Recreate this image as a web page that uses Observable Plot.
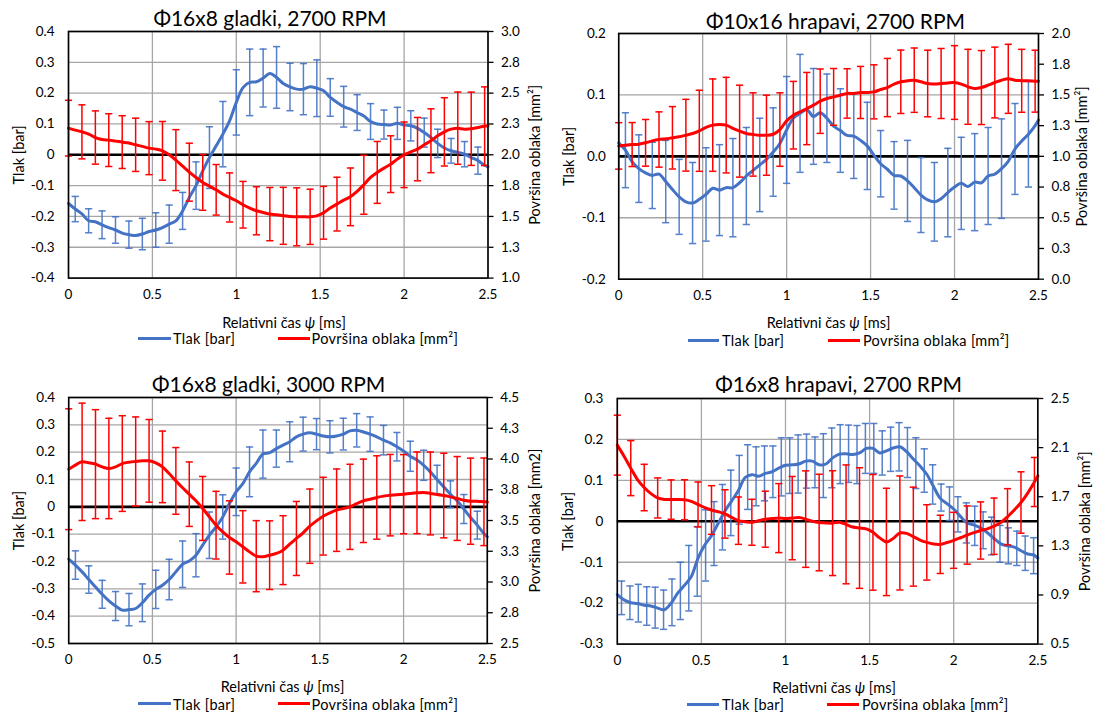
<!DOCTYPE html>
<html><head><meta charset="utf-8">
<script src="https://cdn.jsdelivr.net/npm/d3@7"></script>
<script src="https://cdn.jsdelivr.net/npm/@observablehq/plot@0.6"></script>
<style>
body{margin:0;background:#fff;font-family:Lato,"Open Sans",sans-serif;color:#000;}
#root{position:relative;width:1093px;height:713px;overflow:hidden;background:#fff;}
.panel{position:absolute;width:546px;height:356px;}
.panel svg{position:absolute;left:0;}
.title{position:absolute;white-space:nowrap;font-size:21px;font-weight:400;transform:translate(-50%,-50%);}
.xlab{position:absolute;white-space:nowrap;font-size:14.5px;transform:translate(-50%,-50%);}
.legline{position:absolute;height:3px;}
.legtext{position:absolute;white-space:nowrap;font-size:14.5px;letter-spacing:0.3px;transform:translateY(-50%);}
</style>
</head><body><div id="root"></div>
<script>
// ---------- shared sampling grid (ms) ----------
const time = [0,0.04,0.08,0.12,0.16,0.2,0.24,0.28,0.32,0.36,0.4,0.44,0.48,0.52,0.56,0.6,0.64,0.68,0.72,0.76,0.8,0.84,0.88,0.92,0.96,1,1.04,1.08,1.12,1.16,1.2,1.24,1.28,1.32,1.36,1.4,1.44,1.48,1.52,1.56,1.6,1.64,1.68,1.72,1.76,1.8,1.84,1.88,1.92,1.96,2,2.04,2.08,2.12,2.16,2.2,2.24,2.28,2.32,2.36,2.4,2.44,2.48,2.5];
const blueBarT = [0.04,0.12,0.2,0.28,0.36,0.44,0.52,0.6,0.68,0.76,0.84,0.92,1,1.08,1.16,1.24,1.32,1.4,1.48,1.56,1.64,1.72,1.8,1.88,1.96,2.04,2.12,2.2,2.28,2.36,2.44];
const redBarT = [0,0.08,0.16,0.24,0.32,0.4,0.48,0.56,0.64,0.72,0.8,0.88,0.96,1.04,1.12,1.2,1.28,1.36,1.44,1.52,1.6,1.68,1.76,1.84,1.92,2,2.08,2.16,2.24,2.32,2.4,2.48];
const xTicks = [0,0.5,1,1.5,2,2.5];

// ---------- Panel 1: Φ16x8 gladki, 2700 RPM ----------
const tlak1 = [-0.158,-0.176,-0.192,-0.214,-0.217,-0.227,-0.236,-0.244,-0.254,-0.259,-0.262,-0.257,-0.249,-0.244,-0.236,-0.225,-0.214,-0.182,-0.138,-0.100,-0.052,-0.009,0.029,0.067,0.110,0.170,0.218,0.235,0.237,0.249,0.264,0.251,0.231,0.220,0.213,0.213,0.221,0.216,0.208,0.186,0.170,0.156,0.148,0.137,0.126,0.108,0.100,0.098,0.097,0.102,0.097,0.094,0.086,0.072,0.056,0.037,0.022,0.013,0.008,0.002,-0.009,-0.019,-0.034,-0.039];
const tlakErr1 = [0.041,0.039,0.045,0.043,0.044,0.051,0.056,0.062,0.060,0.077,0.100,0.106,0.106,0.108,0.094,0.100,0.077,0.083,0.092,0.061,0.066,0.058,0.058,0.047,0.052,0.049,0.047,0.046,0.040,0.041,0.044];
const area1 = [2.216,2.200,2.186,2.168,2.140,2.124,2.119,2.111,2.103,2.095,2.081,2.068,2.054,2.046,2.032,2.000,1.957,1.908,1.859,1.816,1.776,1.746,1.716,1.681,1.654,1.627,1.595,1.568,1.546,1.532,1.519,1.514,1.505,1.500,1.497,1.497,1.497,1.505,1.530,1.568,1.600,1.632,1.659,1.703,1.757,1.816,1.857,1.892,1.924,1.965,2.000,2.024,2.046,2.081,2.114,2.154,2.186,2.208,2.216,2.208,2.211,2.222,2.232,2.235];
const areaErr1 = [0.226,0.219,0.216,0.214,0.214,0.216,0.215,0.238,0.247,0.235,0.226,0.205,0.199,0.189,0.195,0.216,0.231,0.235,0.224,0.214,0.218,0.234,0.239,0.251,0.230,0.266,0.257,0.259,0.277,0.293,0.297,0.319];
const yTicks1 = [-0.4,-0.3,-0.2,-0.1,0,0.1,0.2,0.3,0.4];
const rTicks1 = [1,1.25,1.5,1.75,2,2.25,2.5,2.75,3];

// ---------- Panel 2: Φ10x16 hrapavi, 2700 RPM ----------
const tlak2 = [0.022,0.010,-0.009,-0.020,-0.027,-0.031,-0.029,-0.041,-0.054,-0.066,-0.074,-0.076,-0.070,-0.062,-0.052,-0.055,-0.051,-0.051,-0.043,-0.032,-0.023,-0.014,-0.005,0.007,0.021,0.043,0.062,0.070,0.076,0.065,0.071,0.062,0.049,0.042,0.034,0.033,0.026,0.017,0.002,-0.012,-0.021,-0.031,-0.032,-0.040,-0.051,-0.063,-0.071,-0.074,-0.069,-0.059,-0.050,-0.044,-0.049,-0.042,-0.043,-0.032,-0.029,-0.020,-0.008,0.012,0.025,0.036,0.050,0.059];
const tlakErr2 = [0.061,0.055,0.054,0.067,0.061,0.066,0.076,0.074,0.080,0.079,0.076,0.072,0.087,0.096,0.078,0.072,0.068,0.069,0.071,0.054,0.055,0.066,0.061,0.064,0.072,0.075,0.079,0.079,0.081,0.074,0.086];
const area2 = [1.085,1.091,1.096,1.099,1.110,1.126,1.137,1.143,1.151,1.159,1.172,1.186,1.208,1.235,1.254,1.259,1.254,1.227,1.205,1.186,1.178,1.172,1.172,1.180,1.218,1.289,1.335,1.362,1.389,1.417,1.449,1.471,1.484,1.498,1.512,1.512,1.520,1.520,1.525,1.544,1.560,1.588,1.607,1.615,1.620,1.607,1.593,1.588,1.593,1.598,1.601,1.588,1.566,1.552,1.560,1.579,1.601,1.620,1.631,1.620,1.615,1.615,1.612,1.612];
const areaErr2 = [0.189,0.179,0.190,0.225,0.254,0.292,0.330,0.376,0.389,0.374,0.339,0.326,0.299,0.275,0.294,0.262,0.231,0.201,0.212,0.220,0.237,0.258,0.262,0.271,0.285,0.300,0.305,0.301,0.288,0.281,0.256,0.252];
const yTicks2 = [-0.2,-0.1,0,0.1,0.2];
const rTicks2 = [0,0.25,0.5,0.75,1,1.25,1.5,1.75,2];

// ---------- Panel 3: Φ16x8 gladki, 3000 RPM ----------
const tlak3 = [-0.191,-0.213,-0.238,-0.266,-0.293,-0.320,-0.344,-0.363,-0.378,-0.376,-0.372,-0.351,-0.323,-0.302,-0.287,-0.266,-0.238,-0.210,-0.198,-0.177,-0.140,-0.104,-0.073,-0.037,0.012,0.055,0.085,0.128,0.159,0.193,0.198,0.213,0.226,0.238,0.256,0.266,0.271,0.266,0.259,0.256,0.259,0.266,0.278,0.280,0.274,0.266,0.256,0.244,0.234,0.220,0.204,0.185,0.171,0.152,0.128,0.100,0.073,0.046,0.022,-0.008,-0.039,-0.067,-0.098,-0.110];
const tlakErr3 = [0.052,0.050,0.051,0.053,0.059,0.069,0.070,0.074,0.085,0.079,0.085,0.081,0.087,0.091,0.088,0.068,0.073,0.062,0.057,0.059,0.058,0.061,0.063,0.054,0.052,0.055,0.055,0.052,0.049,0.053,0.051];
const area3 = [3.917,3.950,3.977,3.969,3.958,3.936,3.923,3.936,3.963,3.974,3.980,3.985,3.985,3.969,3.936,3.882,3.822,3.766,3.714,3.660,3.598,3.530,3.462,3.408,3.362,3.327,3.286,3.245,3.210,3.205,3.218,3.232,3.259,3.308,3.354,3.400,3.454,3.497,3.535,3.562,3.584,3.598,3.611,3.638,3.660,3.673,3.687,3.698,3.706,3.709,3.714,3.720,3.725,3.728,3.720,3.711,3.703,3.692,3.679,3.665,3.657,3.657,3.652,3.650];
const areaErr3 = [0.491,0.477,0.443,0.408,0.389,0.362,0.336,0.291,0.271,0.262,0.260,0.275,0.298,0.294,0.289,0.279,0.280,0.301,0.302,0.316,0.335,0.346,0.339,0.339,0.331,0.322,0.332,0.337,0.344,0.341,0.350,0.356];
const yTicks3 = [-0.5,-0.4,-0.3,-0.2,-0.1,0,0.1,0.2,0.3,0.4];
const rTicks3 = [2.5,2.75,3,3.25,3.5,3.75,4,4.25,4.5];

// ---------- Panel 4: Φ16x8 hrapavi, 2700 RPM ----------
const tlak4 = [-0.179,-0.192,-0.199,-0.201,-0.205,-0.207,-0.212,-0.216,-0.200,-0.175,-0.156,-0.135,-0.090,-0.058,-0.035,-0.005,0.025,0.050,0.075,0.107,0.114,0.110,0.117,0.121,0.130,0.137,0.138,0.140,0.147,0.147,0.138,0.140,0.155,0.164,0.165,0.163,0.167,0.178,0.178,0.167,0.172,0.179,0.182,0.170,0.152,0.135,0.115,0.085,0.056,0.043,0.030,0.012,-0.004,-0.009,-0.016,-0.028,-0.042,-0.055,-0.060,-0.063,-0.072,-0.080,-0.083,-0.090];
const tlakBarT4 = [0.025,0.075,0.125,0.175,0.225,0.275,0.325,0.375,0.425,0.475,0.525,0.575,0.625,0.675,0.725,0.775,0.825,0.875,0.925,0.975,1.025,1.075,1.125,1.175,1.225,1.275,1.325,1.375,1.425,1.475,1.525,1.575,1.625,1.675,1.725,1.775,1.825,1.875,1.925,1.975,2.025,2.075,2.125,2.175,2.225,2.275,2.325,2.375,2.425,2.475];
const tlakBarMid4 = [-0.187,-0.199,-0.200,-0.207,-0.211,-0.216,-0.198,-0.170,-0.139,-0.098,-0.059,-0.030,0.010,0.045,0.077,0.108,0.110,0.117,0.121,0.133,0.136,0.140,0.147,0.144,0.136,0.155,0.164,0.165,0.163,0.178,0.178,0.167,0.176,0.182,0.168,0.142,0.124,0.090,0.058,0.043,0.017,-0.004,-0.011,-0.022,-0.036,-0.055,-0.060,-0.066,-0.078,-0.084];
const tlakErr4 = [0.041,0.041,0.046,0.047,0.050,0.048,0.057,0.070,0.080,0.085,0.087,0.078,0.080,0.080,0.084,0.079,0.072,0.067,0.063,0.071,0.068,0.071,0.066,0.062,0.078,0.073,0.072,0.070,0.071,0.061,0.061,0.054,0.054,0.059,0.061,0.062,0.053,0.048,0.033,0.041,0.043,0.049,0.048,0.045,0.046,0.045,0.044,0.042,0.042,0.044];
const area4 = [2.120,2.030,1.933,1.840,1.775,1.725,1.690,1.678,1.677,1.677,1.675,1.662,1.637,1.612,1.592,1.578,1.560,1.532,1.505,1.497,1.492,1.505,1.517,1.522,1.526,1.522,1.526,1.530,1.518,1.500,1.490,1.487,1.485,1.493,1.475,1.453,1.445,1.438,1.410,1.365,1.332,1.360,1.405,1.402,1.375,1.347,1.328,1.315,1.312,1.327,1.345,1.366,1.388,1.408,1.425,1.438,1.460,1.490,1.537,1.592,1.653,1.730,1.820,1.870];
const areaErr4 = [0.244,0.224,0.189,0.163,0.160,0.163,0.183,0.198,0.197,0.193,0.187,0.228,0.281,0.339,0.393,0.393,0.427,0.484,0.491,0.471,0.437,0.464,0.403,0.307,0.237,0.228,0.237,0.233,0.229,0.229,0.250,0.200];
const yTicks4 = [-0.3,-0.2,-0.1,0,0.1,0.2,0.3];
const rTicks4 = [0.5,0.9,1.3,1.7,2.1,2.5];

const titles = ["Φ16x8 gladki, 2700 RPM","Φ10x16 hrapavi, 2700 RPM","Φ16x8 gladki, 3000 RPM","Φ16x8 hrapavi, 2700 RPM"];
const leftLabel = "Tlak [bar]";
const rightLabels = ["Površina oblaka [mm²]","Površina oblaka [mm²]","Površina oblaka [mm2]","Površina oblaka [mm²]"];
const legendLabels = ["Tlak [bar]","Površina oblaka [mm²]"];

// ---------- drawing ----------
const COL_B = "#4472C4", COL_R = "#FF0000", GRID = "#A6A6A6";
const idx = new Map(time.map((t,i)=>[t.toFixed(3), i]));
const cap = {draw(ctx, size){ const r = Math.sqrt(size/Math.PI); ctx.moveTo(-r,0); ctx.lineTo(r,0); }};
const fmtInt0 = d => d === 0 ? "0" : d.toFixed(1);
const fmt1 = d => d.toFixed(1);
const root = document.getElementById("root");

function drawPanel(c){
  const div = document.createElement("div");
  div.className = "panel"; div.style.left = c.ox+"px"; div.style.top = c.oy+"px";
  root.appendChild(div);
  const W = 546, padT = 10, padB = 34;
  const [y0,y1] = c.yDom, [r0,r1] = c.rDom;
  const toL = r => y0 + (r - r0)*(y1 - y0)/(r1 - r0);
  const blue = time.map((t,i)=>({t, v:c.tlak[i]}));
  const red = time.map((t,i)=>({t, v:toL(c.area[i])}));
  const bb = c.bT.map((t,i)=>{ const m = c.bMid ? c.bMid[i] : c.tlak[idx.get(t.toFixed(3))]; return {t, lo:m - c.bErr[i], hi:m + c.bErr[i]}; });
  const rb = c.rT.map((t,i)=>{ const m = c.area[idx.get(t.toFixed(3))]; return {t, lo:toL(m - c.rErr[i]), hi:toL(m + c.rErr[i])}; });
  const rMapped = c.rTicks.map(toL);
  const rLabel = new Map(rMapped.map((v,i)=>[v.toFixed(6), c.rTicks[i].toFixed(1)]));
  const plot = Plot.plot({
    width: W, height: padT + (c.bottom - c.top) + padB,
    marginTop: padT, marginBottom: padB, marginLeft: c.left, marginRight: W - c.right,
    x: {domain:[0,2.5]}, y: {domain:c.yDom},
    style: {fontFamily:"Lato, 'Open Sans', sans-serif", fontSize:"13.5px", background:"transparent", color:"#000", overflow:"visible"},
    marks: [
      Plot.gridX(xTicks, {stroke:GRID, strokeOpacity:1, strokeWidth:1.3}),
      Plot.gridY(c.yTicks, {stroke:GRID, strokeOpacity:1, strokeWidth:1.3}),
      Plot.ruleY([0], {stroke:"#000", strokeWidth:2.6}),
      Plot.axisX(xTicks, {tickSize:0, tickPadding:11, tickFormat:d=>String(d), label:null}),
      Plot.axisY(c.yTicks, {anchor:"left", tickSize:0, tickPadding:c.tickPad, tickFormat:c.yFmt, label:null}),
      Plot.axisY(rMapped, {anchor:"right", tickSize:5, tickPadding:8, tickFormat:d=>rLabel.get(d.toFixed(6)), label:null, strokeWidth:1.3}),
      // Tlak (blue) error bars + line
      Plot.ruleX(bb, {x:"t", y1:"lo", y2:"hi", stroke:COL_B, strokeWidth:1.5, strokeOpacity:0.9}),
      Plot.dot(bb, {x:"t", y:"lo", r:3.6, symbol:cap, stroke:COL_B, strokeWidth:1.5, strokeOpacity:0.9, fill:"none"}),
      Plot.dot(bb, {x:"t", y:"hi", r:3.6, symbol:cap, stroke:COL_B, strokeWidth:1.5, strokeOpacity:0.9, fill:"none"}),
      Plot.line(blue, {x:"t", y:"v", stroke:COL_B, strokeWidth:3, curve:"catmull-rom"}),
      // Površina (red) error bars + line
      Plot.ruleX(rb, {x:"t", y1:"lo", y2:"hi", stroke:COL_R, strokeWidth:1.5}),
      Plot.dot(rb, {x:"t", y:"lo", r:3.6, symbol:cap, stroke:COL_R, strokeWidth:1.5, fill:"none"}),
      Plot.dot(rb, {x:"t", y:"hi", r:3.6, symbol:cap, stroke:COL_R, strokeWidth:1.5, fill:"none"}),
      Plot.line(red, {x:"t", y:"v", stroke:COL_R, strokeWidth:3, curve:"catmull-rom"}),
      Plot.frame({stroke:"#000", strokeWidth:1.6}),
      Plot.text([leftLabel], {text:d=>d, frameAnchor:"left", textAnchor:"middle", dx:-(c.left - c.yLabX), rotate:-90, fontSize:14.5, fill:"#000"}),
      Plot.text([c.rLabel], {text:d=>d, frameAnchor:"right", textAnchor:"middle", dx:(c.rLabX - c.right), rotate:-90, fontSize:14.5, fill:"#000"})
    ]
  });
  plot.style.top = (c.top - padT) + "px";
  div.appendChild(plot);

  const t = document.createElement("div");
  t.className = "title"; t.textContent = c.title;
  t.style.left = c.titleX+"px"; t.style.top = c.titleY+"px";
  div.appendChild(t);

  const xl = document.createElement("div");
  xl.className = "xlab"; xl.innerHTML = "Relativni čas <i>ψ</i> [ms]";
  xl.style.left = c.xLabX+"px"; xl.style.top = c.xLabY+"px";
  div.appendChild(xl);

  [[c.legB, COL_B, legendLabels[0]], [c.legR, COL_R, legendLabels[1]]].forEach(([p, col, txt])=>{
    const ln = document.createElement("div");
    ln.className = "legline"; ln.style.background = col;
    ln.style.left = p[0]+"px"; ln.style.width = (p[1]-p[0])+"px"; ln.style.top = (c.legY - 1.5)+"px";
    div.appendChild(ln);
    const tx = document.createElement("div");
    tx.className = "legtext"; tx.textContent = txt;
    tx.style.left = p[2]+"px"; tx.style.top = c.legY+"px";
    div.appendChild(tx);
  });
}

const panels = [
  {ox:0, oy:0, left:68, right:487.5, top:30.7, bottom:277.3, yDom:[-0.4,0.4], rDom:[1,3], yTicks:yTicks1, yFmt:fmtInt0, rTicks:rTicks1,
   tlak:tlak1, area:area1, bT:blueBarT, bErr:tlakErr1, rT:redBarT, rErr:areaErr1, title:titles[0], rLabel:rightLabels[0],
   titleX:270, titleY:17.4, yLabX:19, rLabX:534.5, xLabX:284, xLabY:322, legY:338, legB:[138,170.6,173], legR:[277.5,310,311.6], tickPad:14},
  {ox:546, oy:0, left:72.2, right:492, top:33.3, bottom:279, yDom:[-0.2,0.2], rDom:[0,2], yTicks:yTicks2, yFmt:fmt1, rTicks:rTicks2,
   tlak:tlak2, area:area2, bT:blueBarT, bErr:tlakErr2, rT:redBarT, rErr:areaErr2, title:titles[1], rLabel:rightLabels[1],
   titleX:289.6, titleY:20, yLabX:22.7, rLabX:535.6, xLabX:282.5, xLabY:322.3, legY:340, legB:[142.4,173.4,176], legR:[282,314,317], tickPad:13},
  {ox:0, oy:356, left:68.2, right:486.8, top:40.7, bottom:286.7, yDom:[-0.5,0.4], rDom:[2.5,4.5], yTicks:yTicks3, yFmt:fmtInt0, rTicks:rTicks3,
   tlak:tlak3, area:area3, bT:blueBarT, bErr:tlakErr3, rT:redBarT, rErr:areaErr3, title:titles[2], rLabel:rightLabels[2],
   titleX:268.7, titleY:26.7, yLabX:19, rLabX:534.5, xLabX:282.6, xLabY:330, legY:347.7, legB:[137.5,170.6,173], legR:[277.5,310,311.6], tickPad:13.5},
  {ox:546, oy:356, left:70.8, right:491.3, top:41.7, bottom:287.3, yDom:[-0.3,0.3], rDom:[0.5,2.5], yTicks:yTicks4, yFmt:fmtInt0, rTicks:rTicks4,
   tlak:tlak4, area:area4, bT:tlakBarT4, bMid:tlakBarMid4, bErr:tlakErr4, rT:redBarT, rErr:areaErr4, title:titles[3], rLabel:rightLabels[3],
   titleX:292.6, titleY:26.7, yLabX:21.6, rLabX:539, xLabX:288, xLabY:331, legY:348.3, legB:[141.3,173.4,176], legR:[281,313,316], tickPad:14}
];
panels.forEach(drawPanel);
</script>
</body></html>
